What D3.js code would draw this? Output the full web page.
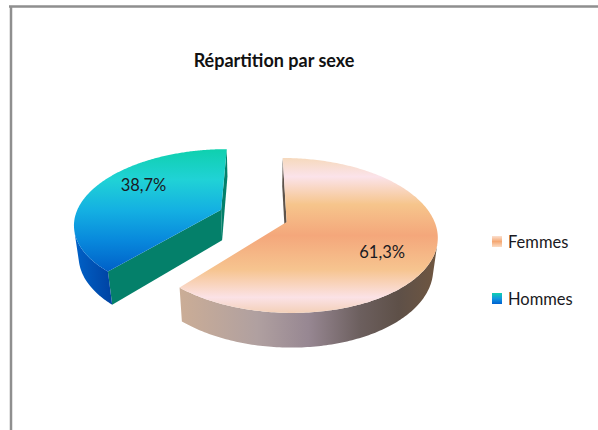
<!DOCTYPE html>
<html>
<head>
<meta charset="utf-8">
<script src="https://cdn.jsdelivr.net/npm/d3@7"></script>
<style>
  body { margin: 0; background: #fff; }
  svg { display: block; }
  text { font-family: Lato, "Open Sans", sans-serif; }
</style>
</head>
<body>
<div id="chart"></div>
<script>
// data
const categories = ["Femmes", "Hommes"];
const values = [61.3, 38.7];
const labels = values.map(v => v.toFixed(1).replace(".", ",") + "%");
const title = "Répartition par sexe";

const width = 598, height = 430;

// 3d view settings (pie in unit radius, seen from above with perspective)
const alpha = 30.5 * Math.PI / 180;
const D = 4.96, f = 734, X0 = 260, Y0 = 222;
const thick = 0.25, pieX = 0.18;
const explode = { Hommes: 0.48 };
const ca = Math.cos(alpha), sa = Math.sin(alpha);
const cam = [0, D * sa, D * ca];

function project(p) {
    const vy = p[1] * ca - p[2] * sa;
    const vz = p[1] * sa + p[2] * ca;
    const d = D - vz;
    return [X0 + f * p[0] / d, Y0 - f * vy / d];
}

function pt(o, a, r, y) {
    return [o[0] + r * Math.sin(a), y, o[2] - r * Math.cos(a)];
}

const svg = d3.select("#chart").append("svg")
    .attr("width", width)
    .attr("height", height);

const defs = svg.append("defs");

function grad(id, vertical, stops) {
    const g = defs.append("linearGradient").attr("id", id)
        .attr("x1", 0).attr("y1", 0)
        .attr("x2", vertical ? 0 : 1).attr("y2", vertical ? 1 : 0);
    g.selectAll("stop").data(stops).enter().append("stop")
        .attr("offset", d => d[0])
        .attr("stop-color", d => d[1]);
}

grad("femTop", true, [[0, "#f6d9bd"], [0.12, "#fbe3ea"], [0.3, "#f6c58c"], [0.5, "#f4a77b"],
    [0.72, "#f6c48f"], [0.9, "#fbe2e6"], [1, "#f3d0b8"]]);
grad("femSide", false, [[0, "#cbad96"], [0.3, "#b0a0a0"], [0.5, "#978792"], [0.7, "#6c5f5e"],
    [0.85, "#5e5048"], [1, "#6f5640"]]);
grad("homTop", true, [[0, "#0fd0ae"], [0.25, "#20d2d6"], [0.5, "#14b0e2"], [0.75, "#0888dc"], [1, "#0060c8"]]);
grad("homSide", false, [[0, "#0062c8"], [1, "#0042a2"]]);
grad("femKey", true, [[0, "#fbe0d0"], [0.5, "#f5a873"], [1, "#fbdcc4"]]);
grad("homKey", true, [[0, "#10d0b0"], [0.5, "#1198e0"], [1, "#0060d0"]]);

const styles = {
    Femmes: { top: "url(#femTop)", side: "url(#femSide)", cut: "#5e544c" },
    Hommes: { top: "url(#homTop)", side: "url(#homSide)", cut: "#04806a" }
};

// frame
svg.append("path")
    .attr("d", "M9,6.5H598M11,6.5V430")
    .attr("fill", "none")
    .attr("stroke", "#8f8f8f")
    .attr("stroke-width", 2.5);

svg.append("text")
    .attr("x", 274)
    .attr("y", 67)
    .attr("text-anchor", "middle")
    .style("font-size", "18px")
    .style("font-weight", "bold")
    .attr("fill", "#111")
    .text(title);

const arcs = d3.pie().sort(null).value(d => d)(values);
const line = d3.line();

function dot(a, b) { return a[0] * b[0] + a[1] * b[1] + a[2] * b[2]; }
function sub(a, b) { return [a[0] - b[0], a[1] - b[1], a[2] - b[2]]; }

const slices = arcs.map((a, i) => {
    const name = categories[i];
    const mid = (a.startAngle + a.endAngle) / 2;
    const e = explode[name] || 0;
    const o = [pieX + e * Math.sin(mid), 0, -e * Math.cos(mid)];
    return { name, a0: a.startAngle, a1: a.endAngle, mid, o, label: labels[i] };
});

// draw back slice first
slices.slice().reverse().forEach(s => {
    const g = svg.append("g");
    const st = styles[s.name];
    const angs = d3.range(0, 241).map(k => s.a0 + (s.a1 - s.a0) * k / 240);

    // radial walls
    [[s.a0, -1], [s.a1, 1]].forEach(([ang, sign]) => {
        const n = [sign * Math.cos(ang), 0, sign * Math.sin(ang)];
        if (dot(n, sub(cam, s.o)) <= 0) return;
        const poly = [
            project(s.o), project(pt(s.o, ang, 1, 0)),
            project(pt(s.o, ang, 1, -thick)), project([s.o[0], -thick, s.o[2]])
        ];
        g.append("path").attr("d", line(poly) + "Z").attr("fill", st.cut);
    });

    // outer wall, front facing part
    const vis = angs.filter(ang => {
        const n = [Math.sin(ang), 0, -Math.cos(ang)];
        return dot(n, sub(cam, pt(s.o, ang, 1, 0))) > 0;
    });
    if (vis.length > 1) {
        const topArc = vis.map(ang => project(pt(s.o, ang, 1, 0)));
        const botArc = vis.slice().reverse().map(ang => project(pt(s.o, ang, 1, -thick)));
        g.append("path").attr("d", line(topArc.concat(botArc)) + "Z").attr("fill", st.side);
    }

    // top face
    const face = [project(s.o)].concat(angs.map(ang => project(pt(s.o, ang, 1, 0))));
    g.append("path").attr("d", line(face) + "Z").attr("fill", st.top);

    const lp = project(pt(s.o, s.mid + 12 * Math.PI / 180, 0.7, 0));
    g.append("text")
        .attr("x", lp[0])
        .attr("y", lp[1])
        .attr("dy", "0.35em")
        .attr("text-anchor", "middle")
        .style("font-size", "16.5px")
        .attr("fill", "#1a1a22")
        .text(s.label);
});

// legend
const legend = svg.append("g");
const ly = d3.scalePoint().domain(categories).range([242, 299]);
const keys = legend.selectAll("g").data(categories).enter().append("g")
    .attr("transform", d => "translate(492," + ly(d) + ")");
keys.append("rect")
    .attr("x", 0).attr("y", -6)
    .attr("width", 10).attr("height", 11)
    .attr("fill", d => d == "Femmes" ? "url(#femKey)" : "url(#homKey)");
keys.append("text")
    .attr("x", 16)
    .attr("y", 0)
    .attr("dy", "0.36em")
    .style("font-size", "16.5px")
    .attr("fill", "#1a1a22")
    .text(d => d);
</script>
</body>
</html>
